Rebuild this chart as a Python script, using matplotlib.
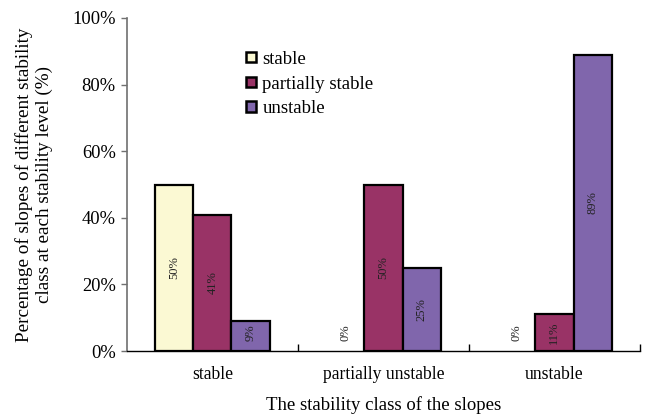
import numpy as np
import matplotlib.pyplot as plt
from matplotlib.ticker import FixedLocator

plt.rcParams['font.family'] = ['Liberation Serif', 'DejaVu Serif']

categories = ['stable', 'partially unstable', 'unstable']
series = ['stable', 'partially stable', 'unstable']
values = {
    'stable': [50, 0, 0],
    'partially stable': [41, 50, 11],
    'unstable': [9, 25, 89],
}
colors = ['#FBF9D3', '#993366', '#8066AC']

fig = plt.figure(figsize=(6.47, 4.18), dpi=100)
ax = fig.add_axes([0.196, 0.160, 0.793, 0.797])

x = np.arange(len(categories))
w = 0.224
for i, name in enumerate(series):
    pos = x + (i - 1) * w
    vals = values[name]
    lws = [1.6 if v > 0 else 0 for v in vals]
    ax.bar(pos, vals, w, color=colors[i], edgecolor='black',
           linewidth=lws, label=name, zorder=2)
    for px, v in zip(pos, vals):
        ax.text(px, max(v / 2, 5.5), '%d%%' % v, rotation=90,
                ha='center', va='center', fontsize=9, color='#222222')

ax.set_xlim(-0.5, 2.5)
ax.set_ylim(0, 100)
ax.set_yticks(np.arange(0, 101, 20))
ax.set_yticklabels(['%d%%' % t for t in range(0, 101, 20)], fontsize=13.3)
ax.set_xticks(x)
ax.set_xticklabels(categories, fontsize=12.7)
ax.xaxis.set_minor_locator(FixedLocator([0.5, 1.5, 2.5]))
ax.tick_params(axis='x', which='major', length=0, pad=11)
ax.tick_params(axis='x', which='minor', direction='in', length=5, width=1)
ax.tick_params(axis='y', direction='out', length=4, width=1, color='#707070', pad=4)

for s in ['top', 'right']:
    ax.spines[s].set_visible(False)
ax.spines['left'].set_color('#707070')
ax.spines['left'].set_linewidth(1.2)
ax.spines['bottom'].set_linewidth(1.0)

ax.set_xlabel('The stability class of the slopes', fontsize=13.5, labelpad=9)
ax.set_ylabel('Percentage of slopes of different stability\nclass at each stability level (%)',
              fontsize=13.8, labelpad=14)

leg = ax.legend(loc='upper left', bbox_to_anchor=(0.215, 0.93), frameon=False,
                fontsize=13.5, handlelength=0.5, handleheight=0.5, handletextpad=0.35,
                labelspacing=0.42, borderpad=0)
for h in leg.legend_handles:
    h.set_linewidth(1.8)

fig.savefig('out.png', dpi=100)
